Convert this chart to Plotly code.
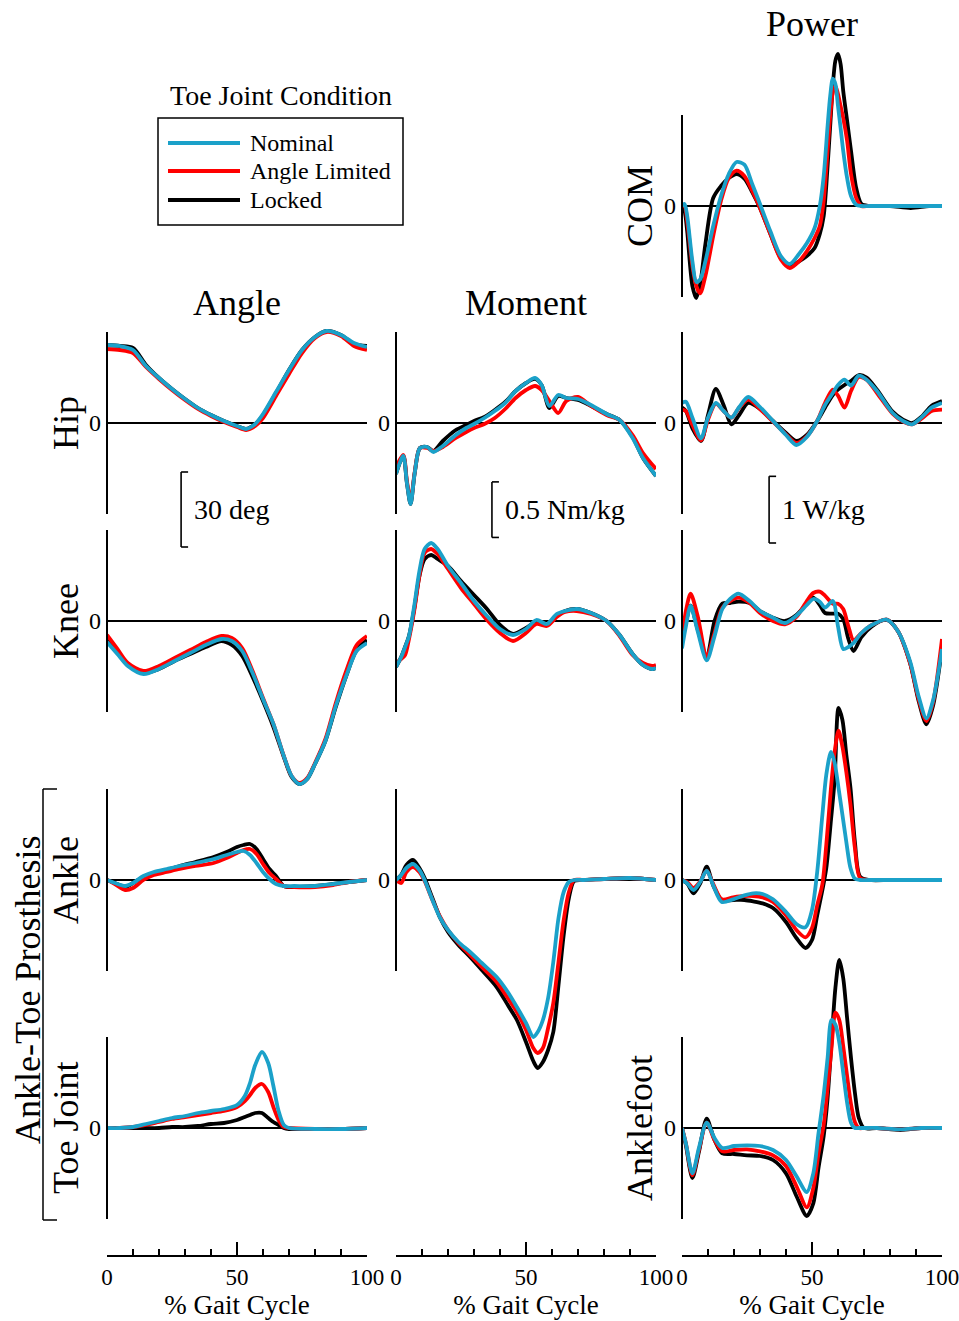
import plotly.graph_objects as go

W, H = 959, 1321
SERIF = "Liberation Serif"
SERIES = ["Locked", "Angle Limited", "Nominal"]          # drawing order (Nominal on top)
COLORS = {"Nominal": "#1ba1c9", "Angle Limited": "#ff0000", "Locked": "#000000"}

# ---------------- data: % gait cycle and joint quantities ----------------
# COM power (W/kg)
pct_com = [0, 1, 2, 4, 5.5, 7, 9, 12, 15, 18, 21, 24, 27, 30, 34, 38, 41.5, 45, 48, 51, 53, 54.5,
           56, 57, 58, 59, 60, 61, 62, 63.5, 65, 67, 69, 72, 80, 88, 95, 100]
com_nom = [0, 0.03, -0.15, -0.83, -1.14, -1.10, -0.83, -0.30, 0.15, 0.48, 0.66, 0.62, 0.33, 0.03,
           -0.38, -0.75, -0.87, -0.72, -0.56, -0.33, 0.0, 0.45, 1.20, 1.65, 1.91, 1.83, 1.50, 1.17,
           0.83, 0.42, 0.15, 0.02, 0, 0, 0, 0, 0, 0]
com_lim = [0, 0, -0.23, -0.90, -1.20, -1.31, -1.05, -0.45, 0.08, 0.42, 0.53, 0.45, 0.23, -0.03,
           -0.42, -0.80, -0.93, -0.83, -0.68, -0.48, -0.30, 0.08, 0.83, 1.35, 1.70, 1.80, 1.68, 1.50,
           1.32, 0.98, 0.48, 0.12, 0, 0, 0, 0, 0, 0]
com_lock = [0, -0.08, -0.38, -1.20, -1.38, -1.17, -0.57, 0.12, 0.30, 0.42, 0.48, 0.41, 0.21, -0.03,
            -0.42, -0.78, -0.90, -0.83, -0.75, -0.63, -0.42, -0.15, 0.60, 1.20, 1.80, 2.18, 2.28, 2.13,
            1.73, 1.28, 0.83, 0.27, 0.03, 0, 0, -0.03, 0, 0]

# Hip angle (deg)
pct_hip_ang = [0, 5, 10, 15, 20, 25, 30, 35, 40, 45, 50, 53.5, 57, 60, 65, 70, 75, 80, 84.5, 90, 95, 100]
hip_ang_nom = [31.2, 30.8, 29.2, 22.8, 18.0, 13.6, 9.6, 6.0, 3.2, 0.8, -1.2, -2.4, -0.4, 3.6, 12.4,
               21.2, 29.2, 34.4, 36.8, 35.2, 32.0, 30.4]
hip_ang_lim = [29.6, 29.2, 28.0, 22.4, 17.6, 13.2, 9.2, 5.6, 2.8, 0.4, -1.6, -2.8, -1.2, 2.0, 10.8,
               19.6, 28.0, 34.0, 36.4, 34.8, 30.8, 29.2]
hip_ang_lock = [31.2, 30.8, 30.0, 23.2, 18.0, 13.6, 9.6, 6.0, 3.2, 0.8, -1.2, -2.4, -0.4, 3.2, 12.0,
                21.2, 29.2, 34.4, 36.8, 35.2, 31.6, 30.8]

# Hip moment (Nm/kg)
pct_hip_mom = [0, 2.8, 4.2, 5.6, 7.2, 9.2, 12, 14.4, 18, 23, 27, 30, 34, 38, 42, 46, 50, 53.5, 56, 59,
               62.4, 65.5, 70, 75, 81, 86, 91, 95, 100]
hip_mom_nom = [-0.459, -0.297, -0.540, -0.729, -0.450, -0.225, -0.216, -0.261, -0.207, -0.108, -0.045,
               -0.009, 0.045, 0.108, 0.180, 0.288, 0.360, 0.405, 0.342, 0.153, 0.252, 0.225, 0.216,
               0.162, 0.081, 0.027, -0.135, -0.315, -0.477]
hip_mom_lim = [-0.396, -0.288, -0.522, -0.702, -0.441, -0.225, -0.225, -0.252, -0.216, -0.135, -0.081,
               -0.045, -0.009, 0.045, 0.126, 0.225, 0.297, 0.333, 0.297, 0.198, 0.090, 0.198, 0.234,
               0.153, 0.072, 0.027, -0.108, -0.270, -0.414]
hip_mom_lock = [-0.459, -0.297, -0.540, -0.729, -0.450, -0.225, -0.216, -0.252, -0.162, -0.063, -0.018,
                0.018, 0.054, 0.117, 0.189, 0.288, 0.360, 0.396, 0.342, 0.135, 0.243, 0.225, 0.207,
                0.153, 0.081, 0.027, -0.126, -0.315, -0.477]

# Hip power (W/kg)
pct_hip_pow = [0, 1.5, 4, 7.3, 10, 13, 16, 19, 22, 25.5, 30, 35, 40, 44, 48, 52, 55, 58, 60, 62.5, 65,
               68, 71, 75, 81, 85, 88.5, 92, 96, 100]
hip_pow_nom = [0.30, 0.32, 0.08, -0.23, 0.08, 0.30, 0.18, 0.08, 0.24, 0.39, 0.24, 0.03, -0.18, -0.33,
               -0.21, 0.03, 0.27, 0.45, 0.57, 0.65, 0.56, 0.71, 0.65, 0.48, 0.15, 0.03, -0.02, 0.08,
               0.23, 0.30]
hip_pow_lim = [0.20, 0.18, -0.03, -0.26, 0.05, 0.29, 0.18, 0.08, 0.23, 0.35, 0.21, 0.02, -0.17, -0.30,
               -0.20, 0.03, 0.30, 0.50, 0.41, 0.23, 0.48, 0.69, 0.65, 0.45, 0.14, 0.02, -0.02, 0.06,
               0.18, 0.20]
hip_pow_lock = [0.23, 0.18, -0.08, -0.27, 0.12, 0.51, 0.27, -0.02, 0.12, 0.30, 0.21, 0.03, -0.15, -0.27,
                -0.18, 0.03, 0.23, 0.42, 0.50, 0.57, 0.63, 0.72, 0.68, 0.50, 0.17, 0.05, 0.0, 0.09,
                0.26, 0.33]

# Knee angle (deg)
pct_knee_ang = [0, 4, 8, 14, 20, 26, 32, 38, 44, 48, 52, 56, 60, 64, 68, 71, 74, 77, 80, 84, 88, 92, 96, 100]
knee_ang_nom = [-8.4, -13.2, -18.0, -21.2, -19.2, -16.0, -12.8, -9.6, -7.2, -8.0, -12.0, -20.8, -31.2,
                -41.2, -54.0, -62.0, -65.2, -63.2, -57.2, -48.0, -34.0, -22.0, -12.0, -8.8]
knee_ang_lim = [-5.6, -11.2, -16.8, -20.0, -18.0, -14.8, -11.6, -8.4, -6.0, -6.8, -10.8, -20.0, -30.8,
                -41.2, -54.0, -62.0, -64.8, -62.8, -56.8, -47.2, -32.8, -20.0, -9.6, -6.0]
knee_ang_lock = [-7.2, -12.4, -17.6, -20.8, -19.2, -16.0, -13.2, -10.4, -8.0, -9.6, -14.0, -22.4, -32.0,
                 -42.4, -54.4, -62.4, -65.2, -63.2, -57.2, -48.0, -34.4, -22.0, -11.6, -7.6]

# Knee moment (Nm/kg)
pct_knee_mom = [0, 2, 3.5, 5, 7, 9, 11, 13.5, 16, 20, 25, 30, 35, 40, 45, 50, 54, 58, 61.8, 65, 69.5,
                75, 81, 86, 91, 95, 98.5, 100]
knee_mom_nom = [-0.414, -0.324, -0.234, -0.135, 0.135, 0.450, 0.648, 0.702, 0.648, 0.495, 0.342, 0.180,
                0.045, -0.072, -0.126, -0.072, 0.009, -0.027, 0.063, 0.090, 0.108, 0.072, 0.0, -0.126,
                -0.297, -0.396, -0.432, -0.423]
knee_mom_lim = [-0.378, -0.342, -0.306, -0.162, 0.090, 0.405, 0.612, 0.648, 0.603, 0.468, 0.297, 0.153,
                0.009, -0.108, -0.180, -0.108, -0.027, -0.045, 0.036, 0.081, 0.090, 0.063, 0.0, -0.135,
                -0.306, -0.378, -0.405, -0.396]
knee_mom_lock = [-0.414, -0.324, -0.234, -0.135, 0.108, 0.405, 0.558, 0.594, 0.558, 0.495, 0.360, 0.234,
                 0.108, -0.036, -0.117, -0.063, -0.009, -0.036, 0.045, 0.090, 0.108, 0.072, 0.0, -0.126,
                 -0.297, -0.396, -0.432, -0.423]

# Knee power (W/kg)
pct_knee_pow = [0, 1.5, 3.3, 6, 9.5, 12.5, 15.5, 18.5, 21.7, 26, 30, 35, 39.6, 44, 48, 50.5, 53, 55, 58,
                60, 62, 64, 66, 69, 73, 78.7, 83, 87.7, 91, 94, 96.5, 100]
knee_pow_nom = [-0.41, -0.08, 0.23, -0.15, -0.59, -0.23, 0.18, 0.33, 0.41, 0.30, 0.15, 0.05, -0.03, 0.08,
                0.24, 0.33, 0.29, 0.20, 0.30, -0.08, -0.42, -0.39, -0.33, -0.18, -0.06, 0.02, -0.15,
                -0.60, -1.13, -1.46, -1.20, -0.42]
knee_pow_lim = [-0.26, 0.15, 0.41, 0.08, -0.53, -0.18, 0.20, 0.30, 0.35, 0.27, 0.12, 0.0, -0.05, 0.06,
                0.30, 0.42, 0.44, 0.38, 0.26, 0.26, 0.18, -0.08, -0.29, -0.18, -0.06, 0.02, -0.15,
                -0.63, -1.17, -1.50, -1.23, -0.27]
knee_pow_lock = [-0.30, -0.03, 0.23, -0.12, -0.54, 0.0, 0.26, 0.27, 0.29, 0.27, 0.15, 0.05, 0.0, 0.09,
                 0.26, 0.35, 0.24, 0.12, 0.11, 0.11, 0.03, -0.27, -0.45, -0.24, -0.08, 0.02, -0.15,
                 -0.63, -1.20, -1.55, -1.28, -0.41]

# Prosthesis ankle angle (deg)
pct_ank_ang = [0, 3, 7, 10, 14, 18, 23, 28, 34, 41, 46, 50, 52.5, 55, 57.5, 60, 62.5, 65, 68, 72, 80,
               87, 93, 100]
ank_ang_nom = [0, -1.2, -2.4, -1.2, 1.6, 3.2, 4.4, 5.6, 6.8, 8.4, 10.0, 11.2, 11.6, 10.0, 6.8, 3.2, 0.4,
               -1.6, -2.4, -2.4, -2.4, -1.6, -0.8, 0]
ank_ang_lim = [0, -1.6, -4.0, -3.2, 0, 2.0, 3.2, 4.4, 5.6, 6.8, 8.8, 10.8, 12.0, 12.4, 10.4, 6.4, 2.8,
               0.4, -2.4, -2.8, -2.8, -2.0, -0.8, 0]
ank_ang_lock = [0, -1.2, -2.8, -1.2, 1.2, 2.8, 4.0, 5.6, 7.2, 9.2, 11.2, 13.2, 14.0, 14.4, 12.4, 8.4,
                4.4, 1.6, -2.4, -2.8, -2.4, -1.6, -0.8, 0]

# Prosthesis ankle moment (Nm/kg)
pct_ank_mom = [0, 2, 4, 6.5, 9, 11, 14, 17, 20, 24, 28.5, 33, 38.7, 43, 46.5, 50, 52.8, 54.5, 56.5,
               58.5, 60.5, 62.5, 64.5, 66.5, 68.5, 72, 80, 90, 100]
ank_mom_nom = [0, 0.045, 0.108, 0.144, 0.090, 0, -0.180, -0.342, -0.450, -0.558, -0.648, -0.747, -0.873,
               -1.008, -1.143, -1.287, -1.413, -1.368, -1.260, -1.062, -0.738, -0.342, -0.108, -0.018,
               0, 0, 0.009, 0.018, 0]
ank_mom_lim = [0, -0.027, 0.072, 0.117, 0.072, -0.009, -0.180, -0.333, -0.450, -0.567, -0.675, -0.783,
               -0.918, -1.062, -1.188, -1.350, -1.512, -1.557, -1.512, -1.332, -1.107, -0.738, -0.360,
               -0.108, 0, 0, 0.009, 0.018, 0]
ank_mom_lock = [0, 0.045, 0.135, 0.180, 0.108, 0.018, -0.162, -0.342, -0.468, -0.585, -0.693, -0.810,
                -0.963, -1.125, -1.260, -1.458, -1.629, -1.692, -1.638, -1.530, -1.368, -0.945, -0.495,
                -0.162, -0.009, 0, 0.009, 0.018, 0]

# Prosthesis ankle power (W/kg)
pct_ank_pow = [0, 2, 4.4, 7, 9.5, 12, 15.3, 19.7, 24, 27.4, 31, 35, 40, 44, 47.5, 50, 52, 54, 55.5, 57.3,
               58.7, 60.2, 61.7, 63.2, 64.8, 66.5, 68.5, 72, 80, 90, 100]
ank_pow_nom = [0, -0.05, -0.15, -0.03, 0.14, -0.08, -0.33, -0.29, -0.23, -0.20, -0.21, -0.29, -0.48,
               -0.66, -0.71, -0.45, 0.12, 0.98, 1.58, 1.92, 1.76, 1.38, 0.98, 0.57, 0.18, 0.02, 0, 0, 0,
               0, 0]
ank_pow_lim = [0, -0.03, -0.12, -0.02, 0.14, -0.06, -0.29, -0.26, -0.24, -0.24, -0.26, -0.33, -0.53,
               -0.75, -0.86, -0.72, -0.38, -0.06, 0.53, 1.38, 1.92, 2.24, 2.00, 1.62, 1.13, 0.48, 0.03,
               0, 0, 0, 0]
ank_pow_lock = [0, -0.05, -0.20, -0.05, 0.20, -0.08, -0.30, -0.30, -0.30, -0.32, -0.35, -0.42, -0.63,
                -0.87, -1.02, -0.90, -0.53, -0.15, 0.18, 0.90, 1.50, 2.58, 2.40, 1.88, 1.38, 0.57, 0.05,
                0, 0, 0, 0]

# Toe joint angle (deg)
pct_toe_ang = [0, 5, 10, 15, 20, 25, 30, 35, 40, 45, 50, 53, 55, 57, 59.6, 62, 64, 66, 68, 70, 80, 90, 100]
toe_ang_nom = [0, 0, 0.4, 1.6, 2.8, 4.0, 4.8, 6.0, 6.8, 7.6, 9.2, 12.8, 18.0, 25.2, 30.4, 26.0, 16.8,
               6.8, 1.2, 0, -0.4, -0.4, 0]
toe_ang_lim = [0, 0, 0.4, 1.2, 2.4, 3.6, 4.4, 5.2, 6.0, 6.8, 8.4, 10.8, 13.2, 16.0, 17.6, 14.4, 8.4, 3.2,
               0.4, 0, -0.4, -0.4, 0]
toe_ang_lock = [0, 0, 0, 0, 0, 0.4, 0.4, 0.8, 1.6, 2.0, 3.2, 4.4, 5.2, 6.0, 6.0, 4.0, 2.4, 1.2, 0, -0.4,
                -0.4, -0.4, 0]

# Ankle-foot power (W/kg)
pct_af_pow = [0, 1.5, 4, 6.5, 9.5, 12.5, 15.5, 20, 25, 30, 35, 40, 44, 48, 50.5, 52.5, 54.5, 56, 57.5, 59,
              60.5, 62, 63.5, 65, 66.5, 68, 70, 75, 84, 92, 100]
af_pow_nom = [0, -0.23, -0.68, -0.30, 0.08, -0.15, -0.30, -0.27, -0.26, -0.27, -0.33, -0.48, -0.72,
              -0.96, -0.68, -0.08, 0.50, 1.05, 1.62, 1.55, 1.28, 0.83, 0.38, 0.08, 0, 0, 0, 0, -0.02, 0, 0]
af_pow_lim = [0, -0.23, -0.71, -0.33, 0.08, -0.18, -0.35, -0.33, -0.32, -0.35, -0.41, -0.57, -0.87,
              -1.19, -0.90, -0.38, 0.05, 0.60, 1.20, 1.73, 1.62, 1.23, 0.78, 0.36, 0.09, 0, 0, 0, -0.02,
              0, 0]
af_pow_lock = [0, -0.26, -0.75, -0.36, 0.14, -0.18, -0.38, -0.39, -0.41, -0.42, -0.48, -0.68, -1.02,
               -1.32, -1.13, -0.60, -0.12, 0.45, 1.28, 2.10, 2.52, 2.25, 1.65, 1.05, 0.53, 0.15, 0, 0,
               -0.03, 0, 0]

# ---------------- layout geometry (pixels) ----------------
COL_LEFT = {"angle": 107, "moment": 396, "power": 682}
COL_SCALE = {"angle": 2.5, "moment": 1 / 0.009, "power": 1 / 0.015}   # px per unit
PLOT_W = 260
ROW_ZERO = {"com": 206, "hip": 423, "knee": 621, "ankle": 880, "toe": 1128}
ROW_BAND = {"com": (40, 305), "hip": (325, 556), "knee": (525, 800),
            "ankle": (700, 1085), "toe": (950, 1232)}
SPINE_HALF = 91
AXIS_Y = 1256


def fx(p):
    return p / W


def fy(p):
    return 1 - p / H


panels = [
    ("power", "com", pct_com, com_nom, com_lim, com_lock),
    ("angle", "hip", pct_hip_ang, hip_ang_nom, hip_ang_lim, hip_ang_lock),
    ("moment", "hip", pct_hip_mom, hip_mom_nom, hip_mom_lim, hip_mom_lock),
    ("power", "hip", pct_hip_pow, hip_pow_nom, hip_pow_lim, hip_pow_lock),
    ("angle", "knee", pct_knee_ang, knee_ang_nom, knee_ang_lim, knee_ang_lock),
    ("moment", "knee", pct_knee_mom, knee_mom_nom, knee_mom_lim, knee_mom_lock),
    ("power", "knee", pct_knee_pow, knee_pow_nom, knee_pow_lim, knee_pow_lock),
    ("angle", "ankle", pct_ank_ang, ank_ang_nom, ank_ang_lim, ank_ang_lock),
    ("moment", "ankle", pct_ank_mom, ank_mom_nom, ank_mom_lim, ank_mom_lock),
    ("power", "ankle", pct_ank_pow, ank_pow_nom, ank_pow_lim, ank_pow_lock),
    ("angle", "toe", pct_toe_ang, toe_ang_nom, toe_ang_lim, toe_ang_lock),
    ("power", "toe", pct_af_pow, af_pow_nom, af_pow_lim, af_pow_lock),
]
bottom_of_col = {"angle": 11, "moment": 9, "power": 12}

fig = go.Figure()
layout = {}
shapes = []
axis_ids = {}

for i, (col, row, pct, nom, lim, lock) in enumerate(panels, start=1):
    xid = "x" if i == 1 else f"x{i}"
    yid = "y" if i == 1 else f"y{i}"
    axis_ids[(col, row)] = (xid, yid)
    vals = {"Nominal": nom, "Angle Limited": lim, "Locked": lock}
    for s in SERIES:
        fig.add_trace(go.Scatter(
            x=pct, y=vals[s], mode="lines", name=s, showlegend=False,
            line=dict(color=COLORS[s], width=3.8, shape="spline", smoothing=0.8),
            xaxis=xid, yaxis=yid, hoverinfo="skip"))

    left = COL_LEFT[col]
    scale = COL_SCALE[col]
    zero = ROW_ZERO[row]
    top, bot = ROW_BAND[row]
    xa = dict(domain=[fx(left), fx(left + PLOT_W)], range=[0, 100], anchor=yid,
              visible=False, showgrid=False, zeroline=False, automargin=False)
    if bottom_of_col[col] == i:
        xa.update(
            visible=True, anchor="free", position=fy(AXIS_Y), side="bottom",
            showline=True, linecolor="black", linewidth=1.6,
            ticks="inside", ticklen=13, tickwidth=1.6, tickcolor="black",
            tickmode="linear", tick0=0, dtick=50,
            minor=dict(ticks="inside", ticklen=6, tickwidth=1.6, tickcolor="black", dtick=10),
            tickfont=dict(size=23, family=SERIF, color="black"), ticklabelstandoff=1,
            ticklabeloverflow="allow",
            title=dict(text="% Gait Cycle", font=dict(size=27, family=SERIF, color="black"),
                       standoff=4))
    ya = dict(domain=[fy(bot), fy(top)], range=[-(bot - zero) / scale, (zero - top) / scale],
              anchor=xid, showgrid=False, showline=False, automargin=False,
              zeroline=True, zerolinecolor="black", zerolinewidth=2,
              tickmode="array", tickvals=[0], ticktext=["0"], ticks="",
              tickfont=dict(size=24, family=SERIF, color="black"), ticklabelstandoff=5)
    layout["xaxis" if i == 1 else f"xaxis{i}"] = xa
    layout["yaxis" if i == 1 else f"yaxis{i}"] = ya

    # vertical spine of each panel
    shapes.append(dict(type="line", xref="paper", yref="paper",
                       x0=fx(left), x1=fx(left),
                       y0=fy(zero - SPINE_HALF), y1=fy(zero + SPINE_HALF),
                       line=dict(color="black", width=2)))

annotations = []

# scale bars drawn in the hip panels' own units
scale_bars = [
    ("angle", 28.5, -49.6, -19.6, "30 deg"),
    ("moment", 36.9, -1.03, -0.53, "0.5 Nm/kg"),
    ("power", 33.5, -1.80, -0.80, "1 W/kg"),
]
for col, xb, y0, y1, label in scale_bars:
    xid, yid = axis_ids[(col, "hip")]
    tick = 7 / 2.6
    for seg in [(xb, y0, xb, y1), (xb, y0, xb + tick, y0), (xb, y1, xb + tick, y1)]:
        shapes.append(dict(type="line", xref=xid, yref=yid, x0=seg[0], y0=seg[1], x1=seg[2],
                           y1=seg[3], line=dict(color="black", width=1.6)))
    annotations.append(dict(xref=xid, yref=yid, x=xb + 4.2, y=(y0 + y1) / 2, text=label,
                            showarrow=False, xanchor="left", yanchor="middle",
                            font=dict(size=28, family=SERIF, color="black")))

# bracket grouping the prosthesis rows
for seg in [(43, 789, 43, 1220), (43, 789, 57, 789), (43, 1220, 57, 1220)]:
    shapes.append(dict(type="line", xref="paper", yref="paper", x0=fx(seg[0]), y0=fy(seg[1]),
                       x1=fx(seg[2]), y1=fy(seg[3]), line=dict(color="black", width=1.5)))


def label(text, x, y, size=36, angle=0, anchor="center"):
    annotations.append(dict(xref="paper", yref="paper", x=fx(x), y=fy(y), text=text,
                            showarrow=False, xanchor=anchor, yanchor="middle", textangle=angle,
                            font=dict(size=size, family=SERIF, color="black")))


label("Power", 812, 24)
label("Angle", 237, 303)
label("Moment", 526, 303)
label("COM", 640, 206, angle=-90)
label("Hip", 66, 423, angle=-90)
label("Knee", 66, 621, angle=-90)
label("Ankle", 66, 880, angle=-90)
label("Toe Joint", 66, 1128, angle=-90)
label("Anklefoot", 640, 1128, angle=-90)
label("Ankle-Toe Prosthesis", 28, 990, angle=-90)

# legend box
label("Toe Joint Condition", 281, 96, size=28)
shapes.append(dict(type="rect", xref="paper", yref="paper", x0=fx(158), x1=fx(403),
                   y0=fy(225), y1=fy(118), line=dict(color="black", width=1.5)))
for name, yy in [("Nominal", 143), ("Angle Limited", 171), ("Locked", 200)]:
    shapes.append(dict(type="line", xref="paper", yref="paper", x0=fx(168), x1=fx(240),
                       y0=fy(yy), y1=fy(yy), line=dict(color=COLORS[name], width=4)))
    label(name, 248, yy, size=24, anchor="left")

fig.update_layout(
    width=W, height=H, autosize=False,
    margin=dict(l=0, r=0, t=0, b=0, autoexpand=False),
    paper_bgcolor="white", plot_bgcolor="rgba(0,0,0,0)",
    font=dict(family=SERIF, color="black"),
    shapes=shapes, annotations=annotations, showlegend=False,
    **layout)

fig.write_html("out.html")
